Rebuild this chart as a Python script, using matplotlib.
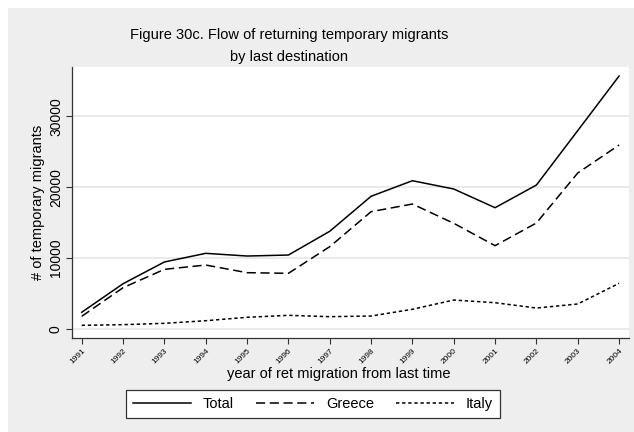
import matplotlib
matplotlib.use("Agg")
import matplotlib.pyplot as plt
from matplotlib.patches import Rectangle

# Returning temporary migrants by last destination
years = [1991, 1992, 1993, 1994, 1995, 1996, 1997, 1998, 1999, 2000, 2001, 2002, 2003, 2004]
total = [2360, 6390, 9460, 10680, 10300, 10440, 13790, 18730, 20930, 19760, 17120, 20320, 28000, 35710]
greece = [1790, 5830, 8420, 9030, 7950, 7860, 11620, 16560, 17640, 14920, 11760, 14960, 22020, 25970]
italy = [520, 610, 800, 1170, 1650, 1930, 1740, 1830, 2780, 4090, 3710, 2960, 3530, 6450]
yticks = [0, 10000, 20000, 30000]

plt.rcParams['font.family'] = ['Liberation Sans', 'DejaVu Sans']

W, H = 634, 432
fig = plt.figure(figsize=(W / 100, H / 100), dpi=100, facecolor='white')
fig.patches.append(Rectangle((8 / W, 0), 1, (H - 8) / H, transform=fig.transFigure,
                             facecolor='#eeeeee', edgecolor='none', zorder=-10))

ax = fig.add_axes([72 / W, 1 - 338 / H, (629 - 72) / W, (338 - 67) / H])
ax.set_zorder(1)
ax.set_facecolor('white')

lw = 1.1
ax.plot(years, total, color='black', lw=lw, linestyle='-', label='Total')
ax.plot(years, greece, color='black', lw=lw, linestyle=(0, (6, 3)), label='Greece')
ax.plot(years, italy, color='black', lw=lw, linestyle=(0, (2.2, 1.8)), label='Italy')

ax.set_xlim(1990.765, 2004.24)
ax.set_ylim(-1270, 36980)
ax.set_xticks(years)
ax.set_xticklabels([str(y) for y in years], rotation=45, fontsize=6, ha='right',
                   rotation_mode='anchor')
ax.set_yticks(yticks)
ax.set_yticklabels([str(v) for v in yticks], rotation=90, va='center', fontsize=10)
ax.yaxis.grid(True, color='#e6e6e6', lw=1.2)
ax.set_axisbelow(True)
for s in ['top', 'right']:
    ax.spines[s].set_visible(False)
for s in ['left', 'bottom']:
    ax.spines[s].set_color('#333333')
    ax.spines[s].set_linewidth(0.9)
ax.tick_params(axis='both', direction='out', length=4.5, width=0.8, color='#333333', pad=2)

ax.set_ylabel('# of temporary migrants', fontsize=10.5, labelpad=3)
fig.text(339 / W, 1 - 374 / H, 'year of ret migration from last time',
         ha='center', va='center', fontsize=10.5)
fig.text(289 / W, 1 - 35 / H, 'Figure 30c. Flow of returning temporary migrants',
         ha='center', va='center', fontsize=10.5)
fig.text(289 / W, 1 - 57 / H, 'by last destination', ha='center', va='center', fontsize=10.5)

leg = fig.legend(loc='center', bbox_to_anchor=((129 + 497) / 2 / W, 1 - 404 / H), ncol=3,
                 frameon=True, fancybox=False, fontsize=10.5, handlelength=4.0,
                 columnspacing=1.5, handletextpad=0.8, borderpad=0.45)
leg.get_frame().set_edgecolor('#333333')
leg.get_frame().set_linewidth(0.9)
leg.get_frame().set_alpha(1)

fig.savefig('out.png', dpi=100, facecolor=fig.get_facecolor())
